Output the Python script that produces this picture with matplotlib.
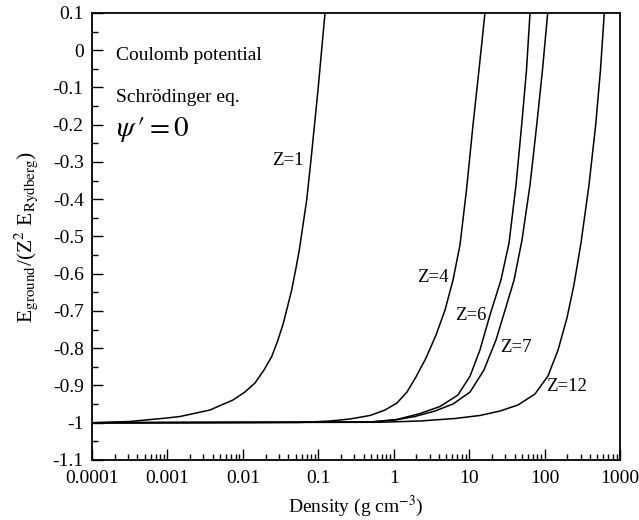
import matplotlib
matplotlib.use("Agg")
import matplotlib.pyplot as plt
from matplotlib.ticker import FixedLocator, FixedFormatter, MultipleLocator, LogLocator, NullFormatter

plt.rcParams['font.family'] = ['Liberation Serif', 'DejaVu Serif']
plt.rcParams['mathtext.fontset'] = 'stix'
plt.rcParams['axes.unicode_minus'] = False

# ---- data (density g/cm^3, E_ground / (Z^2 E_Rydberg)) ----
rho_z1 = [0.0001, 0.000319, 0.000986, 0.00147, 0.00366, 0.0074, 0.01067, 0.01448, 0.01905, 0.0241,
          0.0292, 0.0344, 0.0396, 0.0444, 0.0506, 0.056, 0.0627, 0.0702, 0.08, 0.0991, 0.1228]
e_z1 = [-1.0, -0.9966, -0.9872, -0.9832, -0.9658, -0.9389, -0.9174, -0.8933, -0.8584, -0.8227,
        -0.7779, -0.733, -0.6839, -0.6436, -0.5846, -0.5362, -0.4691, -0.402, -0.2946, -0.1067, 0.1]

rho_z4 = [0.0001, 0.0571, 0.143, 0.263, 0.485, 0.766, 1.105, 1.50, 1.97, 2.68, 3.64, 4.79, 6.11,
          7.56, 9.22, 11.25, 13.5, 16.2]
e_z4 = [-1.0, -0.9993, -0.9953, -0.9899, -0.9805, -0.9658, -0.947, -0.9174, -0.8772, -0.8262,
        -0.7644, -0.6973, -0.6168, -0.5228, -0.375, -0.2007, -0.053, 0.1]

rho_z6 = [0.0001, 0.485, 1.105, 2.23, 4.11, 7.11, 10.3, 13.9, 18.9, 26.4, 33.8, 41.8, 49.7, 57.6, 64.1]
e_z6 = [-1.0, -0.998, -0.9913, -0.9752, -0.9564, -0.9255, -0.8745, -0.8047, -0.7107, -0.6168,
        -0.5174, -0.3617, -0.2007, -0.053, 0.1]

rho_z7 = [0.0001, 0.485, 1.04, 1.91, 3.52, 6.11, 10.3, 15.7, 22.7, 30.8, 39.4, 50.2, 64.1, 78.7, 93.8, 110.0]
e_z7 = [-1.0, -0.998, -0.9926, -0.9832, -0.9685, -0.9497, -0.9174, -0.8584, -0.7779, -0.6893,
        -0.6168, -0.5094, -0.3617, -0.2007, -0.053, 0.1]

rho_z12 = [0.0001, 0.658, 2.23, 6.49, 13.9, 25.7, 44.4, 74.6, 111.0, 151.0, 198.0, 245.0, 304.0,
           388.0, 476.0, 551.0, 619.0]
e_z12 = [-1.0, -0.9987, -0.9953, -0.9886, -0.9805, -0.9685, -0.9523, -0.9228, -0.8745, -0.8047,
         -0.7188, -0.6302, -0.5174, -0.3617, -0.2007, -0.053, 0.1]

curve_labels = ["Z=1", "Z=4", "Z=6", "Z=7", "Z=12"]
label_rho = [0.040, 3.3, 10.6, 41.7, 198.0]
label_e = [-0.295, -0.611, -0.711, -0.799, -0.904]

x_ticks = [0.0001, 0.001, 0.01, 0.1, 1, 10, 100, 1000]
x_tick_labels = ["0.0001", "0.001", "0.01", "0.1", "1", "10", "100", "1000"]
y_ticks = [0.1, 0, -0.1, -0.2, -0.3, -0.4, -0.5, -0.6, -0.7, -0.8, -0.9, -1, -1.1]
y_tick_labels = ["0.1", "0", "-0.1", "-0.2", "-0.3", "-0.4", "-0.5", "-0.6", "-0.7", "-0.8", "-0.9", "-1", "-1.1"]

fig = plt.figure(figsize=(6.39, 5.2), dpi=100)
ax = fig.add_axes([92/639, 60/520, (620-92)/639, (460-13)/520])

for r, e in [(rho_z1, e_z1), (rho_z4, e_z4), (rho_z6, e_z6), (rho_z7, e_z7), (rho_z12, e_z12)]:
    ax.plot(r, e, color='black', lw=1.1, solid_joinstyle='round')

ax.set_xscale('log')
ax.set_xlim(0.0001, 1000)
ax.set_ylim(-1.1, 0.1)

ax.xaxis.set_major_locator(FixedLocator(x_ticks))
ax.xaxis.set_major_formatter(FixedFormatter(x_tick_labels))
ax.xaxis.set_minor_locator(LogLocator(base=10, subs=range(2, 10), numticks=20))
ax.xaxis.set_minor_formatter(NullFormatter())
ax.yaxis.set_major_locator(FixedLocator(y_ticks))
ax.yaxis.set_major_formatter(FixedFormatter(y_tick_labels))
ax.yaxis.set_minor_locator(MultipleLocator(0.05))

ax.tick_params(which='both', direction='in', top=False, right=False, labelsize=14, width=1.0)
ax.tick_params(which='major', length=8)
ax.tick_params(which='minor', length=4.5)
ax.tick_params(axis='x', pad=7)
ax.tick_params(axis='y', pad=6)
for s in ax.spines.values():
    s.set_linewidth(1.3)

ax.set_xlabel(r'Density (g cm$^{\mathrm{-3}}$)', fontsize=14, labelpad=5)
ax.set_ylabel(r'E$_{\mathrm{ground}}$/(Z$^{2}$ E$_{\mathrm{Rydberg}}$)', fontsize=15.5, labelpad=9)

ax.text(0.045, 0.905, 'Coulomb potential', transform=ax.transAxes, fontsize=14, va='center', ha='left')
ax.text(0.045, 0.81, 'Schrödinger eq.', transform=ax.transAxes, fontsize=14, va='center', ha='left')
ax.text(0.045, 0.74, r"$\psi\,\prime = 0$", transform=ax.transAxes, fontsize=21, va='center', ha='left')

for t, xx, yy in zip(curve_labels, label_rho, label_e):
    ax.text(xx, yy, t, fontsize=13.5, ha='center', va='center')

fig.savefig('out.png', dpi=100)
